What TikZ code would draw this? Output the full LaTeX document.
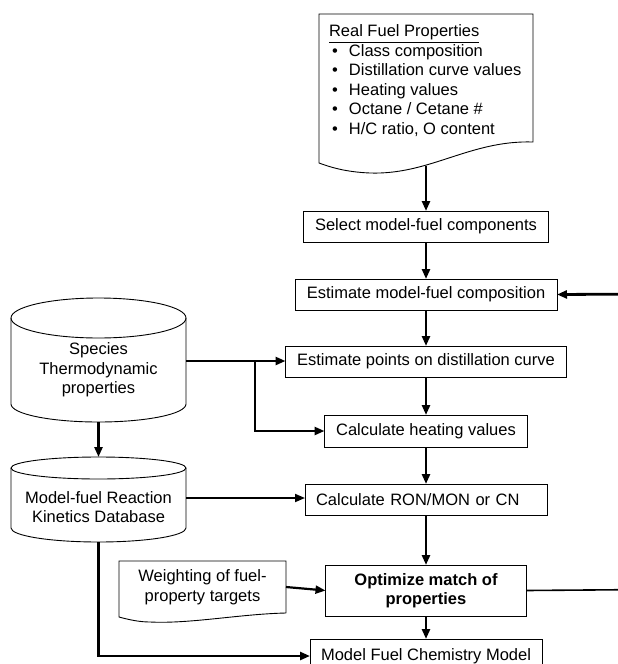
\documentclass[tikz,border=0pt]{standalone}
\usepackage{fontspec}
\setmainfont{Liberation Sans}
\usetikzlibrary{positioning,arrows.meta}

% database drum around an invisible body node: name, top radius, bottom radius
\newcommand{\dbshape}[3]{%
  \draw[dbline] (#1.north) ellipse [x radius=87.5pt, y radius=#2];
  \draw[dbline] (#1.north west) -- (#1.south west)
    arc [start angle=180, end angle=360, x radius=87.5pt, y radius=#3]
    -- (#1.north east);
  \coordinate (#1-top) at ([yshift=#2]#1.north);
  \coordinate (#1-bot) at ([yshift=-#3]#1.south);
}
\newcommand{\bul}{\makebox[20pt][l]{\hspace{3pt}\textbullet}}

\begin{document}
\begin{tikzpicture}
  [x=1pt, y=-1pt,
   font=\fontsize{16.5}{19.5}\selectfont,
   procbox/.style = {draw, line width=0.9pt, inner sep=0pt, outer sep=0pt, minimum height=31pt},
   dbbody/.style = {inner sep=0pt, outer sep=0pt, minimum width=175pt},
   dbline/.style = {line width=0.9pt},
   flow/.style = {line width=2.8pt, -{Triangle[length=10pt, width=8pt]}},
   flowthin/.style = {line width=1.8pt, -{Triangle[length=10pt, width=8pt]}}]
  \useasboundingbox (0,0) rectangle (618,664);

  % fuel data sheet
  \draw[dbline] (319,14) -- (533,14) -- (533,142)
    .. controls (470,140) and (430,175) .. (370,173)
    .. controls (345,172) and (330,167) .. (319,163) -- cycle;
  \node[inner sep=0pt, outer sep=0pt, align=left, anchor=north west] (props) at (329,25)
    {\underline{Real Fuel Properties}\\
     \bul Class composition\\
     \bul Distillation curve values\\
     \bul Heating values\\
     \bul Octane / Cetane \#\\
     \bul H/C ratio, O content};
  \coordinate (propsout) at (426,166);

  % main chain
  \node[procbox, minimum width=245pt] (sel) at (426,226.5) {Select model-fuel components};
  \node[procbox, minimum width=262pt, below=37pt of sel] (comp) {Estimate model-fuel composition};
  \node[procbox, minimum width=281pt, below=36pt of comp] (est) {Estimate points on distillation curve};
  \node[procbox, minimum width=203pt, minimum height=32pt, below=38pt of est] (heat) {Calculate heating values};
  \node[procbox, text width=220pt, inner xsep=11pt, align=left, below=37pt of heat] (ron) {Calculate RON/MON or CN};
  \node[procbox, minimum width=201pt, minimum height=51pt, align=center, below=50pt of ron,
        font=\fontsize{16.5}{18.5}\selectfont\bfseries] (opt) {Optimize match of\\properties};
  \node[procbox, minimum width=232pt, minimum height=34pt, below=23pt of opt] (chem) {Model Fuel Chemistry Model};

  % databases
  \node[dbbody, minimum height=86pt] (spdb) at (98.5,361) {};
  \dbshape{spdb}{20pt}{18pt}
  \node[align=center] (sptext) at (98.5,370) {Species\\Thermodynamic\\properties};
  \node[dbbody, minimum height=60pt] (mfdb) at (98.5,498) {};
  \dbshape{mfdb}{11pt}{14pt}
  \node[align=center] (mftext) at (98.5,507) {Model-fuel Reaction\\Kinetics Database};

  % weighting sheet
  \node[inner sep=0pt, outer sep=0pt, minimum width=167pt, minimum height=52pt, align=center] (wt)
    at (202.5,587) {Weighting of fuel-\\property targets};
  \draw[dbline] (wt.south east) -- (wt.north east) -- (wt.north west) -- (119,617)
    .. controls (130,620) and (140,622) .. (150,622)
    .. controls (190,624) and (240,614) .. (wt.south east);

  % connectors
  \draw[flow] (propsout) -- (sel);
  \draw[flow] (sel) -- (comp);
  \draw[flow] (comp) -- (est);
  \draw[flow] (est) -- (heat);
  \draw[flow] (heat) -- (ron);
  \draw[flow] (ron) -- (opt);
  \draw[flow] (opt) -- (chem);
  \draw[flow] (spdb.east) -- (spdb.east -| est.west);
  \coordinate (split) at (255,361);
  \draw[flow] (split) |- (heat.west);
  \draw[flow] (spdb-bot) -- (mfdb-top);
  \draw[flowthin] (mfdb.east) -- (mfdb.east -| ron.west);
  \draw[flow] (mfdb-bot) |- (chem.west);
  \draw[flowthin, line width=2.2pt] (wt.east) -- (opt.west);

  % feedback loop leaves the frame on the right
  \coordinate (loopout) at (650,589.5);
  \coordinate (loopin) at (650,294);
  \draw[line width=1.6pt] (opt.east) -- (loopout);
  \draw[flow] (loopin) -- (comp.east);
\end{tikzpicture}
\end{document}
